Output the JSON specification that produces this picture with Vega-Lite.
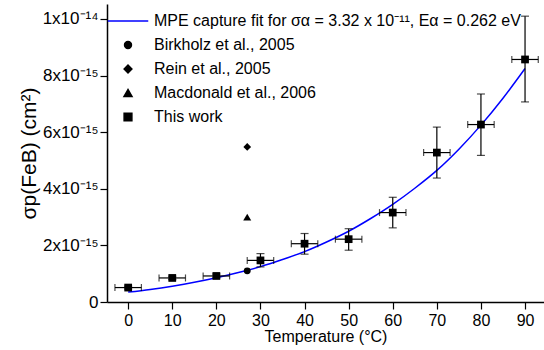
{
  "$schema": "https://vega.github.io/schema/vega-lite/v6.json",
  "width": 437,
  "height": 298,
  "autosize": "none",
  "padding": {"left": 107, "top": 4, "right": 0, "bottom": 48},
  "datasets": {
    "fit": [
      {"T": 0, "sigma": 3.5e-16, "series": "MPE capture fit for σα = 3.32 x 10⁻¹¹, Eα = 0.262 eV"},
      {"T": 5, "sigma": 4.45e-16, "series": "MPE capture fit for σα = 3.32 x 10⁻¹¹, Eα = 0.262 eV"},
      {"T": 10, "sigma": 5.6e-16, "series": "MPE capture fit for σα = 3.32 x 10⁻¹¹, Eα = 0.262 eV"},
      {"T": 15, "sigma": 6.95e-16, "series": "MPE capture fit for σα = 3.32 x 10⁻¹¹, Eα = 0.262 eV"},
      {"T": 20, "sigma": 8.55e-16, "series": "MPE capture fit for σα = 3.32 x 10⁻¹¹, Eα = 0.262 eV"},
      {"T": 25, "sigma": 1.04e-15, "series": "MPE capture fit for σα = 3.32 x 10⁻¹¹, Eα = 0.262 eV"},
      {"T": 30, "sigma": 1.25e-15, "series": "MPE capture fit for σα = 3.32 x 10⁻¹¹, Eα = 0.262 eV"},
      {"T": 35, "sigma": 1.5e-15, "series": "MPE capture fit for σα = 3.32 x 10⁻¹¹, Eα = 0.262 eV"},
      {"T": 40, "sigma": 1.78e-15, "series": "MPE capture fit for σα = 3.32 x 10⁻¹¹, Eα = 0.262 eV"},
      {"T": 45, "sigma": 2.12e-15, "series": "MPE capture fit for σα = 3.32 x 10⁻¹¹, Eα = 0.262 eV"},
      {"T": 50, "sigma": 2.5e-15, "series": "MPE capture fit for σα = 3.32 x 10⁻¹¹, Eα = 0.262 eV"},
      {"T": 55, "sigma": 2.95e-15, "series": "MPE capture fit for σα = 3.32 x 10⁻¹¹, Eα = 0.262 eV"},
      {"T": 60, "sigma": 3.45e-15, "series": "MPE capture fit for σα = 3.32 x 10⁻¹¹, Eα = 0.262 eV"},
      {"T": 65, "sigma": 4.02e-15, "series": "MPE capture fit for σα = 3.32 x 10⁻¹¹, Eα = 0.262 eV"},
      {"T": 70, "sigma": 4.65e-15, "series": "MPE capture fit for σα = 3.32 x 10⁻¹¹, Eα = 0.262 eV"},
      {"T": 75, "sigma": 5.4e-15, "series": "MPE capture fit for σα = 3.32 x 10⁻¹¹, Eα = 0.262 eV"},
      {"T": 80, "sigma": 6.25e-15, "series": "MPE capture fit for σα = 3.32 x 10⁻¹¹, Eα = 0.262 eV"},
      {"T": 85, "sigma": 7.2e-15, "series": "MPE capture fit for σα = 3.32 x 10⁻¹¹, Eα = 0.262 eV"},
      {"T": 90, "sigma": 8.25e-15, "series": "MPE capture fit for σα = 3.32 x 10⁻¹¹, Eα = 0.262 eV"}
    ],
    "pts": [
      {"T": 27, "sigma": 1.1e-15, "series": "Birkholz et al., 2005"},
      {"T": 27, "sigma": 5.48e-15, "series": "Rein et al., 2005"},
      {"T": 27, "sigma": 3.0e-15, "series": "Macdonald et al., 2006"},
      {"T": 0, "sigma": 5.1e-16, "series": "This work", "lo": 4.6e-16, "hi": 5.6e-16, "xlo": -3, "xhi": 3},
      {"T": 10, "sigma": 8.5e-16, "series": "This work", "lo": 7.9e-16, "hi": 9.1e-16, "xlo": 7, "xhi": 13},
      {"T": 20, "sigma": 9.2e-16, "series": "This work", "lo": 8.5e-16, "hi": 9.9e-16, "xlo": 17, "xhi": 23},
      {"T": 30, "sigma": 1.47e-15, "series": "This work", "lo": 1.24e-15, "hi": 1.71e-15, "xlo": 27, "xhi": 33},
      {"T": 40, "sigma": 2.06e-15, "series": "This work", "lo": 1.69e-15, "hi": 2.42e-15, "xlo": 37, "xhi": 43},
      {"T": 50, "sigma": 2.22e-15, "series": "This work", "lo": 1.83e-15, "hi": 2.59e-15, "xlo": 47, "xhi": 53},
      {"T": 60, "sigma": 3.16e-15, "series": "This work", "lo": 2.62e-15, "hi": 3.7e-15, "xlo": 57, "xhi": 63},
      {"T": 70, "sigma": 5.28e-15, "series": "This work", "lo": 4.38e-15, "hi": 6.18e-15, "xlo": 67, "xhi": 73},
      {"T": 80, "sigma": 6.27e-15, "series": "This work", "lo": 5.18e-15, "hi": 7.35e-15, "xlo": 77, "xhi": 83},
      {"T": 90, "sigma": 8.57e-15, "series": "This work", "lo": 7.07e-15, "hi": 1.01e-14, "xlo": 87, "xhi": 93}
    ]
  },
  "encoding": {
    "x": {
      "type": "quantitative",
      "scale": {"domain": [-4.8, 94.3], "nice": false, "zero": false},
      "axis": {
        "title": "Temperature (°C)",
        "values": [0, 10, 20, 30, 40, 50, 60, 70, 80, 90],
        "labelFontSize": 16,
        "titleFontSize": 16,
        "labelPadding": 3,
        "titlePadding": 0,
        "titleFontWeight": "normal"
      }
    },
    "y": {
      "type": "quantitative",
      "scale": {"domain": [0, 1.053e-14], "nice": false, "zero": true},
      "axis": {
        "title": "σp(FeB) (cm²)",
        "values": [0, 2e-15, 4e-15, 6e-15, 8e-15, 1e-14],
        "labelExpr": "datum.value == 0 ? '0' : (datum.value > 9e-15 ? '1x10⁻¹⁴' : format(datum.value * 1e15, 'd') + 'x10⁻¹⁵')",
        "labelFontSize": 17,
        "titleFontSize": 21,
        "labelPadding": 2,
        "titlePadding": 3,
        "titleFontWeight": "normal"
      }
    }
  },
  "layer": [
    {
      "mark": {"type": "rule", "color": "black", "strokeWidth": 1.5},
      "encoding": {"y": {"datum": 1.053e-14}, "x": null}
    },
    {
      "data": {"name": "fit"},
      "mark": {"type": "line", "strokeWidth": 1.5, "interpolate": "monotone"},
      "encoding": {
        "x": {"field": "T"},
        "y": {"field": "sigma"},
        "color": {
          "field": "series",
          "type": "nominal",
          "scale": {
            "domain": ["MPE capture fit for σα = 3.32 x 10⁻¹¹, Eα = 0.262 eV", "Birkholz et al., 2005", "Rein et al., 2005", "Macdonald et al., 2006", "This work"],
            "range": ["#0000ff", "black", "black", "black", "black"]
          }
        }
      }
    },
    {
      "data": {"name": "pts"},
      "transform": [{"filter": "isValid(datum.lo)"}],
      "mark": {"type": "rule", "color": "black", "strokeWidth": 1.2},
      "encoding": {
        "x": {"field": "T"},
        "y": {"field": "lo"},
        "y2": {"field": "hi"}
      }
    },
    {
      "data": {"name": "pts"},
      "transform": [{"filter": "isValid(datum.lo)"}],
      "mark": {"type": "tick", "orient": "horizontal", "color": "black", "size": 8, "thickness": 1.2},
      "encoding": {"x": {"field": "T"}, "y": {"field": "lo"}}
    },
    {
      "data": {"name": "pts"},
      "transform": [{"filter": "isValid(datum.lo)"}],
      "mark": {"type": "tick", "orient": "horizontal", "color": "black", "size": 8, "thickness": 1.2},
      "encoding": {"x": {"field": "T"}, "y": {"field": "hi"}}
    },
    {
      "data": {"name": "pts"},
      "transform": [{"filter": "isValid(datum.lo)"}],
      "mark": {"type": "rule", "color": "black", "strokeWidth": 1.2},
      "encoding": {
        "x": {"field": "xlo"},
        "x2": {"field": "xhi"},
        "y": {"field": "sigma"}
      }
    },
    {
      "data": {"name": "pts"},
      "transform": [{"filter": "isValid(datum.lo)"}],
      "mark": {"type": "tick", "orient": "vertical", "color": "black", "size": 7, "thickness": 1.2},
      "encoding": {"x": {"field": "xlo"}, "y": {"field": "sigma"}}
    },
    {
      "data": {"name": "pts"},
      "transform": [{"filter": "isValid(datum.lo)"}],
      "mark": {"type": "tick", "orient": "vertical", "color": "black", "size": 7, "thickness": 1.2},
      "encoding": {"x": {"field": "xhi"}, "y": {"field": "sigma"}}
    },
    {
      "data": {"name": "pts"},
      "mark": {"type": "point", "filled": true, "opacity": 1, "strokeWidth": 0},
      "encoding": {
        "x": {"field": "T"},
        "y": {"field": "sigma"},
        "color": {
          "field": "series",
          "type": "nominal",
          "scale": {
            "domain": ["MPE capture fit for σα = 3.32 x 10⁻¹¹, Eα = 0.262 eV", "Birkholz et al., 2005", "Rein et al., 2005", "Macdonald et al., 2006", "This work"],
            "range": ["#0000ff", "black", "black", "black", "black"]
          }
        },
        "shape": {
          "field": "series",
          "type": "nominal",
          "scale": {
            "domain": ["MPE capture fit for σα = 3.32 x 10⁻¹¹, Eα = 0.262 eV", "Birkholz et al., 2005", "Rein et al., 2005", "Macdonald et al., 2006", "This work"],
            "range": ["stroke", "circle", "diamond", "triangle-up", "square"]
          }
        },
        "size": {
          "field": "series",
          "type": "nominal",
          "scale": {
            "type": "ordinal",
            "domain": ["MPE capture fit for σα = 3.32 x 10⁻¹¹, Eα = 0.262 eV", "Birkholz et al., 2005", "Rein et al., 2005", "Macdonald et al., 2006", "This work"],
            "range": [1640, 48, 60, 64, 60]
          }
        }
      }
    }
  ],
  "config": {
    "font": "Liberation Sans",
    "view": {"stroke": null},
    "axis": {
      "grid": false,
      "domainColor": "black",
      "domainWidth": 1.5,
      "tickColor": "black",
      "tickWidth": 1.2,
      "tickSize": 7,
      "labelColor": "black",
      "titleColor": "black",
      "labelFont": "Liberation Sans",
      "titleFont": "Liberation Sans"
    },
    "legend": {
      "orient": "none",
      "legendX": 0,
      "legendY": -4,
      "padding": 0,
      "rowPadding": 8,
      "title": null,
      "labelFont": "Liberation Sans",
      "labelFontSize": 16,
      "labelColor": "black",
      "labelLimit": 460,
      "labelOffset": 5,
      "symbolStrokeWidth": 1.5
    }
  }
}
